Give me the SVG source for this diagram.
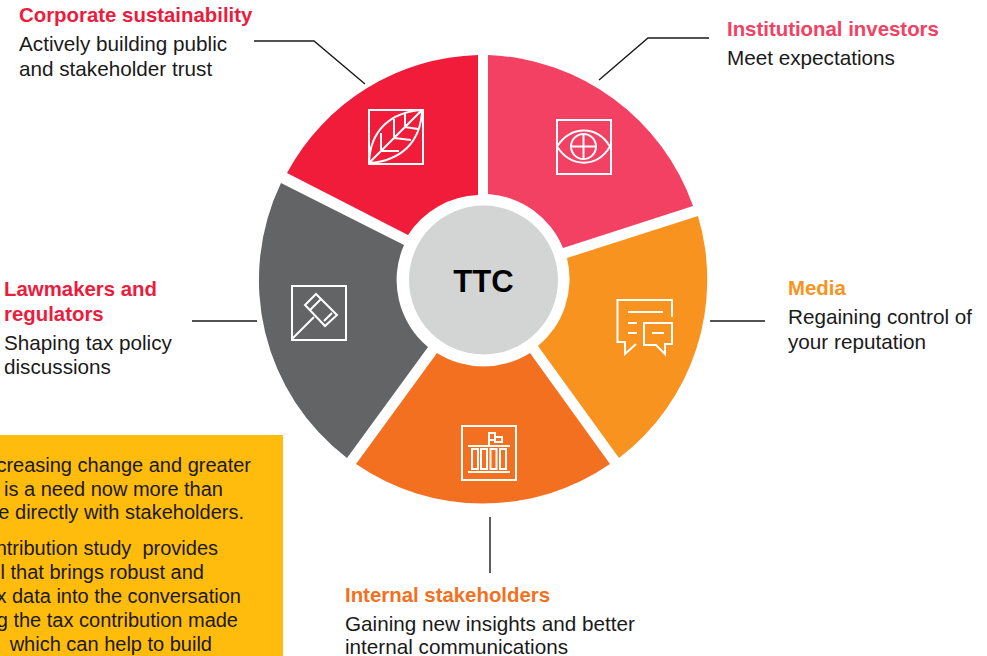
<svg xmlns="http://www.w3.org/2000/svg" width="987" height="656" viewBox="0 0 987 656">
<style>
text{font-family:"Liberation Sans",Arial,sans-serif;font-size:20.7px;fill:#1a1a1a;white-space:pre}
.h{font-weight:700;font-size:20.4px}
.y{font-size:20px;text-anchor:end}
.c{fill:none;stroke:#1a1a1a;stroke-width:1.4}
.i{fill:none;stroke:#fff;stroke-width:2}
</style>
<rect x="-2" y="435" width="285" height="223" fill="#FFBC0D"/>
<g id="connectors">
<path class="c" d="M254 41H314L365 84"/>
<path class="c" d="M599 80L648 38H709"/>
<path class="c" d="M710 321H765"/>
<path class="c" d="M192 321H257"/>
<path class="c" d="M490 517V573"/>
</g>
<g id="node-corporate">
<path d="M478 55A224 224 0 0 0 287 173L408 235A87 87 0 0 1 478 195Z" fill="#F01C3A"/>
<g class="i" transform="translate(368 109)">
<rect x="1" y="1" width="54" height="54"/>
<path d="M1 54C2 22 22 3 54 1C53 33 33 52 1 54ZM1 54L54 1M13 41V24M26 28V10M37 17V4M13 42H31M26 29L43 31M37 18L50 20"/>
</g>
<text class="h" x="19" y="22" style="fill:#EB1C3D">Corporate sustainability</text>
<text x="19" y="51">Actively building public</text>
<text x="19" y="76">and stakeholder trust</text>
</g>
<g id="node-institutional">
<path d="M488 55A226 226 0 0 1 693 206L563 248A87 87 0 0 0 488 194Z" fill="#F24163"/>
<g class="i" transform="translate(556 119)">
<rect x="1" y="1" width="54" height="54"/>
<path d="M1 27.500C15 6 41 6 54 27.500C41 49 15 49 1 27.500ZM27.500 15V40M15 27.500H40"/>
<circle cx="27.500" cy="27.500" r="12.500"/>
</g>
<text class="h" x="727" y="36" style="fill:#F24163">Institutional investors</text>
<text x="727" y="65">Meet expectations</text>
</g>
<g id="node-media">
<path d="M698 216A224 224 0 0 1 619 458L538 346A87 87 0 0 0 567 258Z" fill="#F99320"/>
<path class="i" d="M672 317V300H617.500V342H625V354L636 344M644 323H672V344H665V354L656 345H644ZM628 312H663M628 323H637M628 333H637M652 333H664"/>
<text class="h" x="788" y="295" style="fill:#F7941D">Media</text>
<text x="788" y="324">Regaining control of</text>
<text x="788" y="349">your reputation</text>
</g>
<g id="node-internal">
<path d="M610 464A224 224 0 0 1 356 464L437 353A87 87 0 0 0 530 353Z" fill="#F47021"/>
<g class="i">
<rect x="462" y="426" width="54" height="54"/>
<path d="M468 446H510M468 472H510M489 445V433H495V437H502V442H495V440H489M495 437V440"/>
<rect x="472" y="449" width="6" height="20"/>
<rect x="481" y="449" width="6" height="20"/>
<rect x="490.500" y="449" width="6" height="20"/>
<rect x="500" y="449" width="6" height="20"/>
</g>
<text class="h" x="345" y="602" style="fill:#F47021">Internal stakeholders</text>
<text x="345" y="631">Gaining new insights and better</text>
<text x="345" y="654">internal communications</text>
</g>
<g id="node-lawmakers">
<path d="M281 183L404 245A87 87 0 0 0 428 347L347 458A224 224 0 0 1 281 183Z" fill="#636466"/>
<g class="i" transform="translate(291 285)">
<rect x="1" y="1" width="54" height="54"/>
<path d="M1 54L23 32M25 9L46 30L34 41L14 20ZM19 25L30 14M33 36L41 28"/>
</g>
<text class="h" x="4" y="296" style="fill:#EB1C3D">Lawmakers and</text>
<text class="h" x="4" y="321" style="fill:#EB1C3D">regulators</text>
<text x="4" y="350">Shaping tax policy</text>
<text x="4" y="374">discussions</text>
</g>
<g id="node-ttc">
<circle cx="483.500" cy="280" r="74.500" fill="#D3D5D4"/>
<text class="h" x="483.500" y="292" text-anchor="middle" style="font-size:31px;fill:#000">TTC</text>
</g>
<g id="note">
<text class="y" x="251" y="472">creasing change and greater</text>
<text class="y" x="223" y="496">is a need now more than</text>
<text class="y" x="244" y="519">e directly with stakeholders.</text>
<text class="y" x="218" y="555">ntribution study  provides</text>
<text class="y" x="204" y="579">l that brings robust and</text>
<text class="y" x="241" y="603">x data into the conversation</text>
<text class="y" x="238" y="627">g the tax contribution made</text>
<text class="y" x="212" y="651">which can help to build</text>
</g>
</svg>
